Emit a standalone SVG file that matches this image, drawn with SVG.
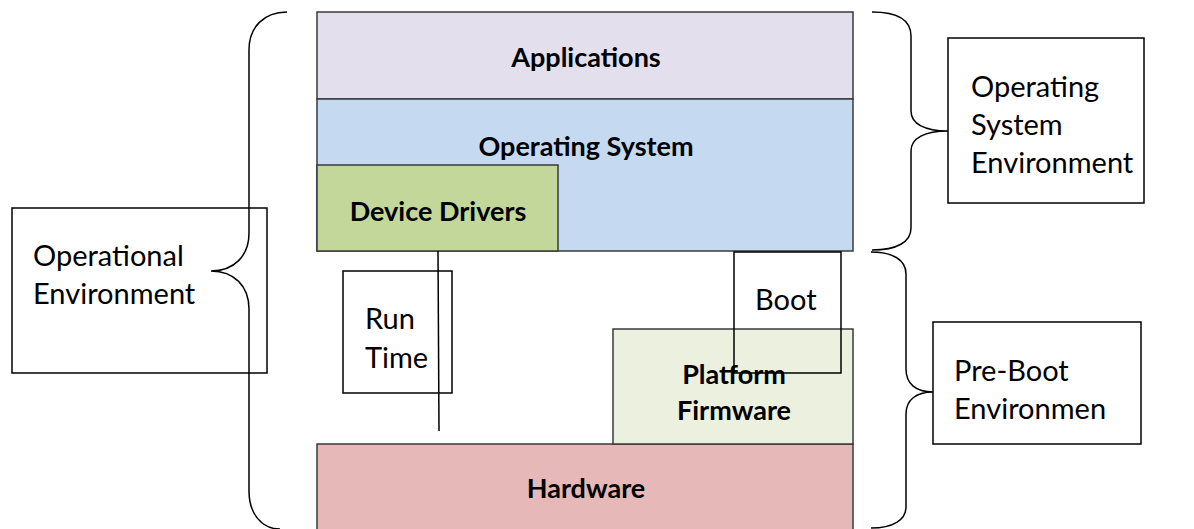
<svg xmlns="http://www.w3.org/2000/svg" width="1194" height="529" viewBox="0 0 1194 529">
<style>
.layer{stroke:#3a3a3a;stroke-width:1.5}
.box{fill:none;stroke:#000;stroke-width:1.5}
.lbl{fill:#fff;stroke:#000;stroke-width:1.5}
.b{font-family:Lato,"Liberation Sans",sans-serif;font-weight:bold;font-size:27px;fill:#000;text-anchor:middle}
.t{font-family:Lato,"Liberation Sans",sans-serif;font-size:29px;fill:#000}
.br{fill:none;stroke:#000;stroke-width:1.5}
</style>
<rect width="1194" height="529" fill="#fff"/>
<g id="applications"><rect class="layer" x="317" y="12" width="536" height="87" fill="#e4dfec"/><text class="b" x="586" y="67">Applications</text></g>
<g id="operating-system"><rect class="layer" x="317" y="99" width="536" height="152" fill="#c5d9f1"/><text class="b" x="586" y="156">Operating System</text></g>
<g id="device-drivers"><rect class="layer" x="317" y="165" width="241" height="86" fill="#c4d79b"/><text class="b" x="438" y="221">Device Drivers</text></g>
<g id="hardware"><rect class="layer" x="317" y="444" width="536" height="90" fill="#e6b8b7"/><text class="b" x="586" y="498">Hardware</text></g>
<g id="platform-firmware"><rect class="layer" x="613" y="329" width="240" height="115" fill="#ebf1de"/><text class="b" x="734" y="384">Platform</text><text class="b" x="734" y="420">Firmware</text></g>
<g id="operational-environment"><rect class="lbl" x="12" y="208" width="255" height="165"/><text class="t" x="33" y="266">Operational</text><text class="t" x="33" y="304">Environment</text></g>
<g id="os-environment"><rect class="lbl" x="948" y="38" width="196" height="165"/><text class="t" x="971" y="97">Operating</text><text class="t" x="971" y="135">System</text><text class="t" x="971" y="173">Environment</text></g>
<g id="pre-boot-environment"><rect class="lbl" x="933" y="322" width="208" height="122"/><text class="t" x="954" y="381">Pre-Boot</text><text class="t" x="954" y="419">Environmen</text></g>
<g id="run-time"><rect class="box" x="343" y="271" width="109" height="122"/><text class="t" x="365" y="329">Run</text><text class="t" x="365" y="368">Time</text></g>
<g id="boot"><rect class="box" x="734" y="252" width="107" height="121"/><text class="t" x="755" y="310">Boot</text></g>
<g id="connectors">
<line class="br" x1="438" y1="251" x2="439" y2="431"/>
<path class="br" d="M287 12 C264 12 249 27 249 50 L249 233 C249 256 234 271 211 271 C234 271 249 286 249 309 L249 491 C249 514 262 529 280 529"/>
<path class="br" d="M872 12 C897 12 911 20 911 36 L911 111 C911 124 925 131 948 131 C925 131 911 138 911 151 L911 228 C911 242 897 250 872 250"/>
<path class="br" d="M871 252 C893 252 906 260 906 274 L906 369 C906 384 916 392 933 392 C916 392 906 400 906 414 L906 507 C906 520 893 528 871 528"/>
</g>
</svg>
